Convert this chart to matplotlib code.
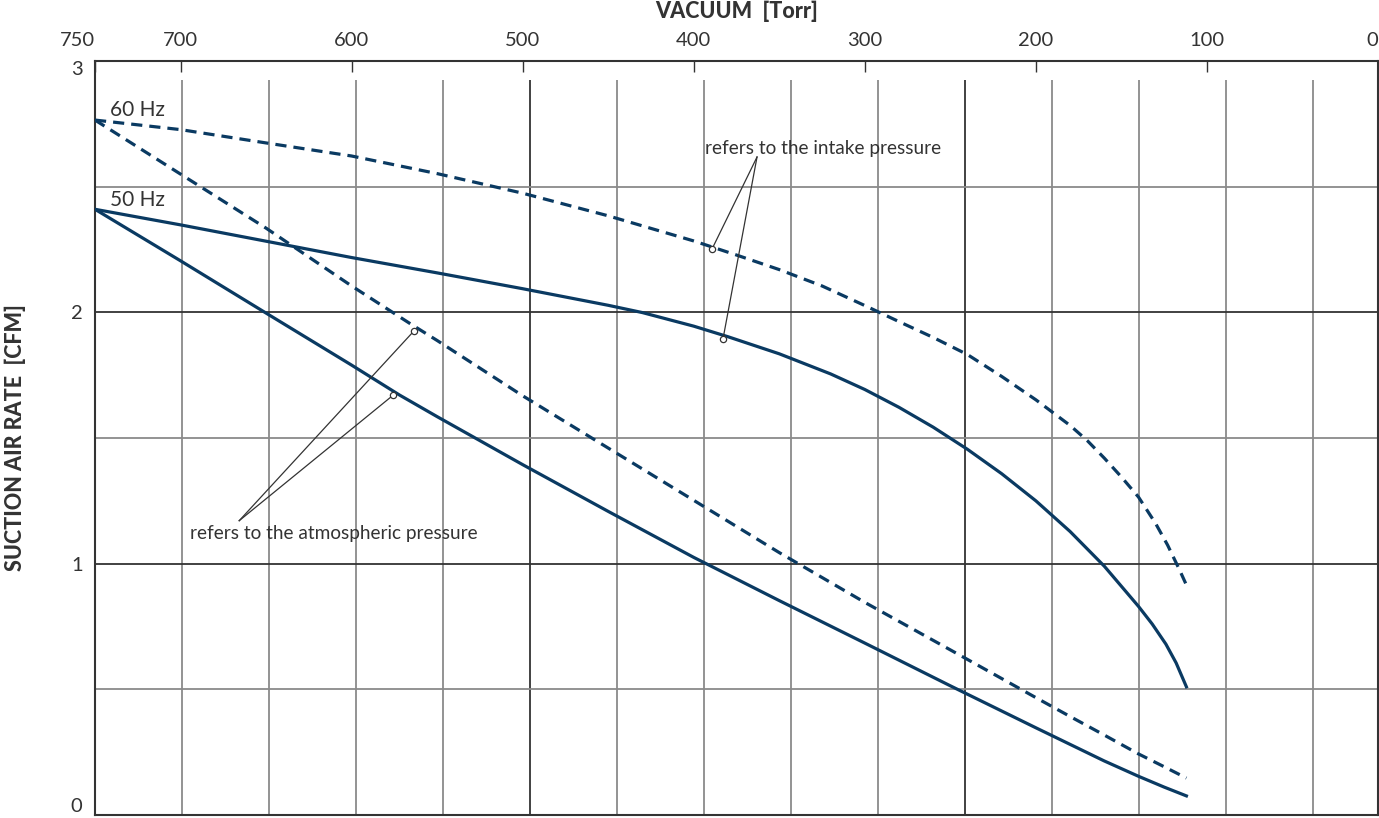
import numpy as np
import matplotlib.pyplot as plt

plt.rcParams['font.family'] = ['Lato', 'DejaVu Sans']

# curves (vacuum in Torr, suction air rate in CFM)
vac_60_intake = [750, 700, 650, 600, 550, 500, 450, 400, 375, 350, 325, 300, 280, 260, 240,
                 220, 200, 180, 170, 160, 150, 140, 130, 123, 116, 112]
rate_60_intake = [2.765, 2.727, 2.674, 2.622, 2.552, 2.474, 2.384, 2.284, 2.228, 2.17, 2.105,
                  2.027, 1.963, 1.90, 1.832, 1.745, 1.652, 1.55, 1.49, 1.42, 1.345, 1.265,
                  1.16, 1.074, 0.975, 0.915]

vac_50_intake = [750, 700, 650, 600, 550, 500, 450, 430, 400, 380, 350, 320, 300, 280, 260,
                 240, 220, 200, 180, 160, 140, 132, 124, 118, 112]
rate_50_intake = [2.41, 2.348, 2.283, 2.218, 2.157, 2.094, 2.028, 1.999, 1.945, 1.903, 1.835,
                  1.755, 1.693, 1.622, 1.543, 1.455, 1.358, 1.25, 1.128, 0.99, 0.83, 0.76,
                  0.68, 0.605, 0.51]

vac_60_atm = [750, 700, 650, 600, 566, 550, 500, 450, 400, 350, 300, 250, 200, 180, 160,
              140, 125, 112]
rate_60_atm = [2.765, 2.55, 2.335, 2.105, 1.956, 1.888, 1.668, 1.46, 1.252, 1.044, 0.846,
               0.657, 0.467, 0.392, 0.318, 0.243, 0.192, 0.147]

vac_50_atm = [750, 700, 650, 600, 572, 550, 500, 450, 400, 350, 300, 250, 200, 160, 140,
              125, 112]
rate_50_atm = [2.41, 2.205, 1.997, 1.79, 1.671, 1.585, 1.394, 1.208, 1.025, 0.853, 0.684,
               0.514, 0.347, 0.215, 0.154, 0.111, 0.076]

x_ticks = [750, 700, 600, 500, 400, 300, 200, 100, 0]
y_ticks = [0, 1, 2, 3]

# annotation pointers: (apex, [points on curves])
intake_apex = (363.0, 2.618)
intake_pts = [(389.3, 2.252), (382.9, 1.894)]
atm_apex = (665.7, 1.171)
atm_pts = [(563.4, 1.927), (575.6, 1.671)]

navy = '#0a3a62'
dark = '#333333'
gray = '#8a8a8a'

fig = plt.figure(figsize=(13.79, 8.18), dpi=100)
ax = fig.add_axes([95 / 1379, 3 / 818, 1283 / 1379, 754 / 818])
ax.set_xlim(750, 0)
ax.set_ylim(0, 3)

# grid (vertical spacing in the original doesn't line up with the ticks)
grid_x = np.arange(750, 0, -50.86)[1:]
for i, gx in enumerate(grid_x, start=1):
    ax.vlines(gx, 0, 2.925, color=dark if i % 5 == 0 else gray, lw=1.3, zorder=1)
for gy in [0.5, 1, 1.5, 2, 2.5]:
    ax.axhline(gy, color=dark if gy % 1 == 0 else gray, lw=1.3, zorder=1)

# curves
ax.plot(vac_60_intake, rate_60_intake, color=navy, lw=2.3, dashes=(3.5, 2.2), zorder=3)
ax.plot(vac_50_intake, rate_50_intake, color=navy, lw=2.3, zorder=3)
ax.plot(vac_60_atm, rate_60_atm, color=navy, lw=2.3, dashes=(3.5, 2.2), zorder=3)
ax.plot(vac_50_atm, rate_50_atm, color=navy, lw=2.3, zorder=3)

ax.text(741, 2.805, '60 Hz', fontsize=15, color=dark, va='center', ha='left')
ax.text(741, 2.447, '50 Hz', fontsize=15, color=dark, va='center', ha='left')

# annotations
for apex, pts in [(intake_apex, intake_pts), (atm_apex, atm_pts)]:
    for px, py in pts:
        ax.plot([apex[0], px], [apex[1], py], color=dark, lw=0.9, zorder=4)
        ax.plot(px, py, marker='o', ms=4.5, mfc='white', mec=dark, mew=0.9, zorder=5)
ax.text(393.4, 2.65, 'refers to the intake pressure', fontsize=13.7, color=dark,
        va='center', ha='left', zorder=6)
ax.text(694.5, 1.122, 'refers to the atmospheric pressure', fontsize=13.7, color=dark,
        va='center', ha='left', zorder=6)

# axes styling
for s in ax.spines.values():
    s.set_color(dark)
    s.set_linewidth(1.5)
ax.xaxis.tick_top()
ax.set_xticks(x_ticks)
ax.set_xticklabels([str(t) for t in x_ticks])
xlabels = ax.get_xticklabels()
xlabels[0].set_ha('right')
xlabels[-1].set_ha('right')
ax.tick_params(axis='x', direction='in', length=8, width=1.0, color=dark,
               pad=9, labelsize=14.5, labelcolor=dark)
ax.set_yticks(y_ticks)
ax.tick_params(axis='y', length=0, pad=9, labelsize=14.5, labelcolor=dark)
ylabels = ax.get_yticklabels()
ylabels[0].set_va('bottom')
ylabels[-1].set_va('top')

ax.xaxis.set_label_position('top')
ax.set_xlabel('VACUUM  [Torr]', fontsize=15.5, fontweight='black', color=dark, va='center')
ax.xaxis.set_label_coords(0.5, 1 + 50 / 754)
ax.set_ylabel('SUCTION AIR RATE  [CFM]', fontsize=15.5, fontweight='black', color=dark, va='center')
ax.yaxis.set_label_coords(-80 / 1283, 0.5)

fig.savefig('out.png', dpi=100)
